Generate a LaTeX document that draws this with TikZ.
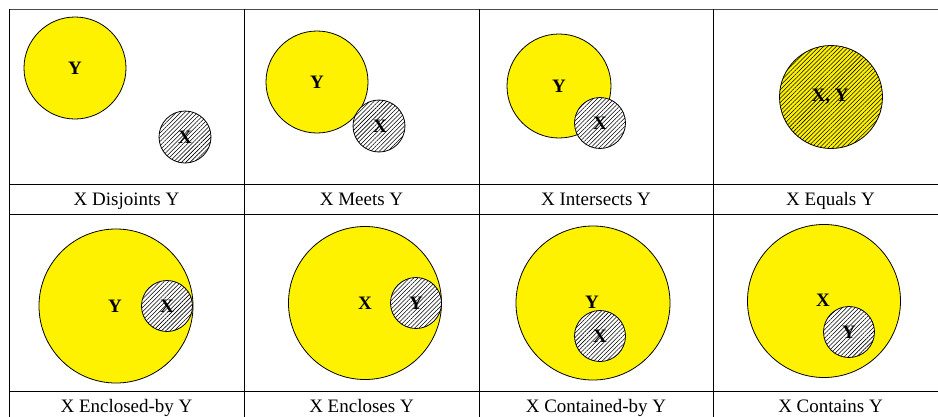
\documentclass[tikz,border=0pt]{standalone}
\usepackage{fontspec}
\setmainfont{Liberation Serif}
\usetikzlibrary{patterns.meta}
\begin{document}
\begin{tikzpicture}[x=1pt,y=-1pt,
  grid/.style={line width=0.9pt,black},
  hatch/.style={pattern={Lines[angle=45,distance=3pt,line width=0.55pt]}},
  bigc/.style={circle,draw=black,line width=0.8pt,fill=yellow,inner sep=0pt},
  hatchc/.style={circle,draw=black,line width=0.8pt,fill=white,inner sep=0pt,
     postaction={hatch}},
  bothc/.style={circle,draw=black,line width=0.8pt,fill=yellow,inner sep=0pt,
     postaction={hatch}},
  lab/.style={font=\bfseries\fontsize{19}{21}\selectfont,inner sep=0pt},
  captxt/.style={font=\fontsize{19}{21}\selectfont,inner sep=0pt,anchor=base}]
\useasboundingbox (0,0) rectangle (938,416);
\clip (0,0) rectangle (938,416);
\fill[white] (0,0) rectangle (938,416);
% table grid
\draw[grid,black!70] (9,9) -- (948,9);
\draw[grid] (9,184) -- (948,184);
\draw[grid] (9,214) -- (948,214);
\draw[grid] (9,391) -- (948,391);
\draw[grid] (9,421) -- (948,421);
\foreach \xx in {9,244,479,713,948} \draw[grid] (\xx,9) -- (\xx,421);
% cell 1: disjoint
\node[bigc,minimum size=102pt] (y1) at (75,68) {};
\node[hatchc,minimum size=52pt] (x1) at (185,137) {};
\node[lab] (ly1) at (75,68) {Y};
\node[lab] (lx1) at (185,137) {X};
% cell 2: meets
\node[bigc,minimum size=102pt] (y2) at (317,82) {};
\node[hatchc,minimum size=52pt] (x2) at (379,126) {};
\node[lab] (ly2) at (317,82) {Y};
\node[lab] (lx2) at (380,126) {X};
% cell 3: intersects
\node[bigc,minimum size=104pt] (y3) at (559,86) {};
\node[hatchc,minimum size=51pt] (x3) at (600,123) {};
\node[lab] (ly3) at (559,86) {Y};
\node[lab] (lx3) at (600,123) {X};
% cell 4: equals
\node[bothc,minimum size=103pt] (xy4) at (831,97) {};
\node[lab] (lxy4) at (830,97) {X, Y};
% cell 5: enclosed-by
\node[bigc,minimum size=154pt] (y5) at (116,306) {};
\node[hatchc,minimum size=51pt] (x5) at (167,306) {};
\node[lab] (ly5) at (115,306) {Y};
\node[lab] (lx5) at (167,306) {X};
% cell 6: encloses
\node[bigc,minimum size=153pt] (x6) at (365,303) {};
\node[hatchc,minimum size=51pt] (y6) at (416,303) {};
\node[lab] (lx6) at (365,303) {X};
\node[lab] (ly6) at (416,303) {Y};
% cell 7: contained-by
\node[bigc,minimum size=154pt] (y7) at (593,303) {};
\node[hatchc,minimum size=51pt] (x7) at (600,336) {};
\node[lab] (ly7) at (592,302) {Y};
\node[lab] (lx7) at (600,336) {X};
% cell 8: contains
\node[bigc,minimum size=153pt] (x8) at (824,301) {};
\node[hatchc,minimum size=51pt] (y8) at (849,332) {};
\node[lab] (lx8) at (823,300) {X};
\node[lab] (ly8) at (849,332) {Y};
% captions
\node[captxt] (c1) at (126.5,205) {X Disjoints Y};
\node[captxt] (c2) at (361.5,205) {X Meets Y};
\node[captxt] (c3) at (596,205) {X Intersects Y};
\node[captxt] (c4) at (830.5,205) {X Equals Y};
\node[captxt] (c5) at (126.5,412) {X Enclosed-by Y};
\node[captxt] (c6) at (361.5,412) {X Encloses Y};
\node[captxt] (c7) at (596,412) {X Contained-by Y};
\node[captxt] (c8) at (830.5,412) {X Contains Y};
\end{tikzpicture}
\end{document}
